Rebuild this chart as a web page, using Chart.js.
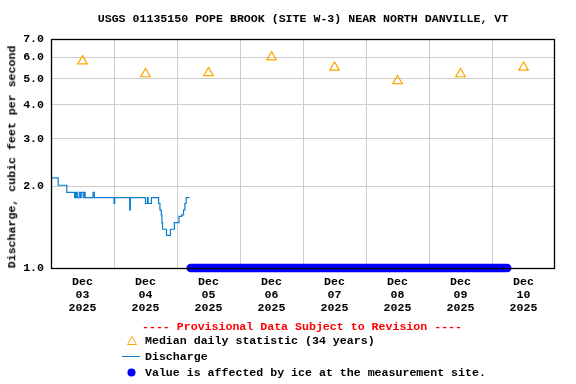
<!DOCTYPE html>
<html><head><meta charset="utf-8">
<script src="https://cdn.jsdelivr.net/npm/chart.js@4"></script>
<style>
html,body{margin:0;padding:0;background:#fff;}
#wrap{position:relative;width:576px;height:384px;overflow:hidden;}
canvas{position:absolute;left:0;top:0;}
.t{position:absolute;font-family:'Liberation Mono','DejaVu Sans Mono',monospace;font-weight:bold;font-size:11.6px;white-space:pre;color:#000;line-height:1;}
</style></head><body>
<div id="wrap">
<canvas id="c" width="576" height="384"></canvas>
<div class="t" style="left:0;width:606px;text-align:center;top:13px;">USGS 01135150 POPE BROOK (SITE W-3) NEAR NORTH DANVILLE, VT</div>
<div class="t" style="left:12px;top:157px;transform:translate(-50%,-50%) rotate(-90deg);">Discharge, cubic feet per second</div>
<div class="t" style="left:0;width:604px;text-align:center;top:321px;color:#ff0000;">---- Provisional Data Subject to Revision ----</div>
<svg style="position:absolute;left:126px;top:335px" width="12" height="11"><polygon points="6,1.5 10.5,9.5 1.5,9.5" fill="none" stroke="#ffa500" stroke-width="1"/></svg>
<div class="t" style="left:145px;top:335px;">Median daily statistic (34 years)</div>
<svg style="position:absolute;left:121px;top:351px" width="20" height="11"><line x1="1" y1="5.5" x2="19" y2="5.5" stroke="#0a7fd0" stroke-width="1"/></svg>
<div class="t" style="left:145px;top:351px;">Discharge</div>
<svg style="position:absolute;left:126px;top:367px" width="11" height="11"><circle cx="5.5" cy="5.5" r="4" fill="#0000ff"/></svg>
<div class="t" style="left:145px;top:367px;">Value is affected by ice at the measurement site.</div>
</div>
<script>
// Hours since 2025-12-03 00:00
const medianHours = [12, 36, 60, 84, 108, 132, 156, 180];
const medianValues = [5.8, 5.2, 5.25, 6.0, 5.5, 4.9, 5.2, 5.5];
const tickMonth = ['Dec','Dec','Dec','Dec','Dec','Dec','Dec','Dec'];
const tickDay = ['03','04','05','06','07','08','09','10'];
const tickYear = ['2025','2025','2025','2025','2025','2025','2025','2025'];
const gridHours = [24, 48, 72, 96, 120, 144, 168];
const yTicks = [1, 2, 3, 4, 5, 6, 7];

const dischargeHours = [0, 0.25, 2.75, 6.0, 9.0, 9.25, 9.5, 9.75, 10.0, 10.75, 11.25, 11.5, 12.25, 12.75, 13.0,
  16.0, 16.5, 24.0, 24.25, 30.0, 30.25, 36.0, 36.75, 37.0, 38.25, 41.0, 41.5, 42.0, 42.25, 42.5, 44.0,
  45.5, 47.0, 48.75, 49.75, 50.5, 51.0, 51.5, 52.75];
const dischargeValues = [2.17, 2.15, 2.02, 1.90, 1.82, 1.90, 1.82, 1.90, 1.82, 1.90, 1.82, 1.90, 1.82, 1.90, 1.82,
  1.90, 1.82, 1.73, 1.82, 1.64, 1.82, 1.73, 1.82, 1.73, 1.82, 1.73, 1.64, 1.57, 1.47, 1.39, 1.32,
  1.39, 1.47, 1.55, 1.57, 1.64, 1.73, 1.82, 1.82];

const iceHours = [53.2, 173.8];
const iceValues = [1.0, 1.0];

const FONT = {family: "'Liberation Mono','DejaVu Sans Mono',monospace", size: 11.6, weight: 'bold', lineHeight: 1.1};

const frame = {
  id: 'frame',
  afterDatasetsDraw(chart) {
    const a = chart.chartArea, c = chart.ctx;
    c.save();
    c.strokeStyle = '#000';
    c.lineWidth = 1.3;
    c.strokeRect(a.left + 0.5, a.top + 0.5, a.right - a.left - 1, a.bottom - a.top);
    c.restore();
  }
};

new Chart(document.getElementById('c'), {
  type: 'line',
  data: {
    datasets: [
      {
        label: 'Discharge',
        data: dischargeHours.map((h, i) => ({x: h, y: dischargeValues[i]})),
        borderColor: '#0a7fd0', borderWidth: 1.2, pointRadius: 0, stepped: true, fill: false
      },
      {
        label: 'Median daily statistic (34 years)',
        data: medianHours.map((h, i) => ({x: h, y: medianValues[i]})),
        showLine: false, pointStyle: 'triangle', pointRadius: 5.5,
        pointBorderColor: '#ffa500', pointBackgroundColor: 'rgba(0,0,0,0)', pointBorderWidth: 1.2
      },
      {
        label: 'Ice',
        data: iceHours.map((h, i) => ({x: h, y: iceValues[i]})),
        borderColor: '#0000ff', borderWidth: 8.5, borderCapStyle: 'round', pointRadius: 0, clip: 12
      }
    ]
  },
  options: {
    responsive: false, animation: false, events: [],
    layout: {padding: {left: 0, right: 21, top: 39, bottom: 0}},
    plugins: {legend: {display: false}, tooltip: {enabled: false}, title: {display: false}},
    scales: {
      x: {
        type: 'linear', min: 0, max: 192,
        afterBuildTicks: s => { s.ticks = gridHours.concat(medianHours).sort((a, b) => a - b).map(v => ({value: v})); },
        afterFit: s => { s.height = 116; },
        grid: {color: ctx => (ctx.tick && gridHours.includes(ctx.tick.value)) ? '#cccccc' : 'rgba(0,0,0,0)', drawTicks: false, lineWidth: 1},
        border: {display: false},
        ticks: {
          autoSkip: false, maxRotation: 0, minRotation: 0, padding: 8, color: '#000', font: FONT,
          callback: v => { const i = medianHours.indexOf(v); return i >= 0 ? [tickMonth[i], tickDay[i], tickYear[i]] : ''; }
        }
      },
      y: {
        type: 'logarithmic', min: 1, max: 7,
        afterBuildTicks: s => { s.ticks = yTicks.map(v => ({value: v})); },
        afterFit: s => { s.width = 51; },
        grid: {color: '#cccccc', drawTicks: false, lineWidth: 1},
        border: {display: false},
        ticks: {padding: 7, color: '#000', font: FONT, callback: v => Number(v).toFixed(1)}
      }
    }
  },
  plugins: [frame]
});
</script>
</body></html>
